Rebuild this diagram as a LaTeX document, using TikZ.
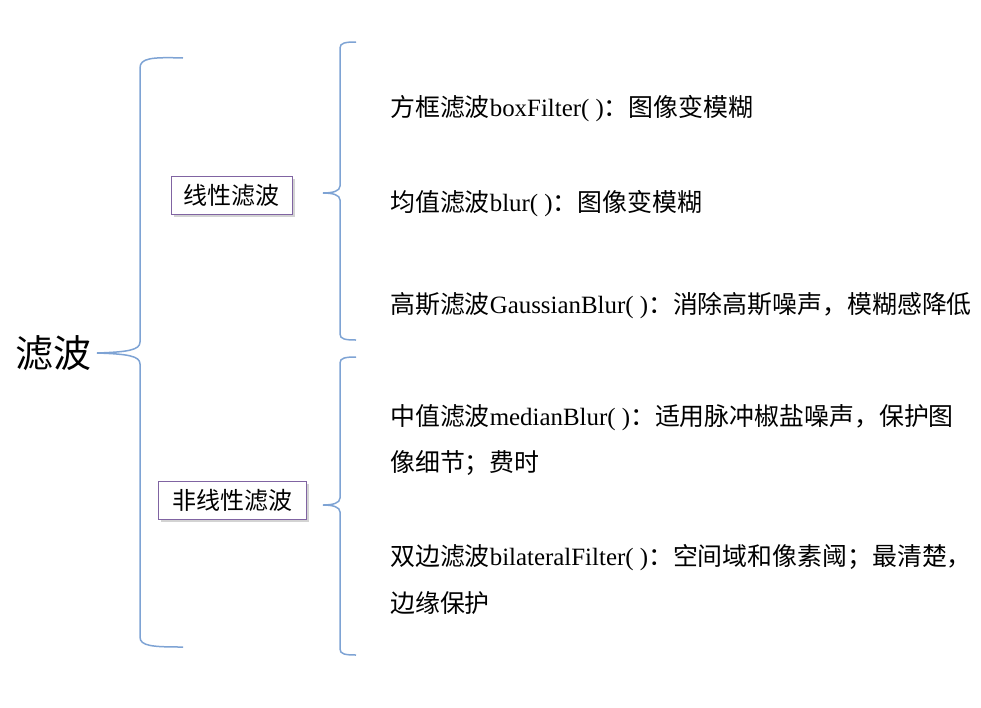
\documentclass[tikz,border=0pt]{standalone}
\usepackage{fontspec}
\setmainfont{Liberation Serif}
\newfontfamily\cjk{Noto Sans CJK SC}
\newcommand\zh[1]{{\cjk #1}}
\usetikzlibrary{shadows}
\definecolor{bracecol}{RGB}{126,163,212}
\definecolor{boxcol}{RGB}{128,100,162}
\tikzset{
  bracestyle/.style={draw=bracecol, line width=1.5pt},
  catbox/.style={draw=boxcol, line width=1pt, fill=white, minimum height=38pt, inner sep=0pt,
    font=\fontsize{24}{28}\selectfont\cjk,
    drop shadow={shadow xshift=2.5pt, shadow yshift=-2.5pt, opacity=0.35}},
  itemtext/.style={anchor=west, inner sep=0pt, font=\fontsize{24.9}{28}\selectfont},
}
\begin{document}
\begin{tikzpicture}[x=1pt,y=-1pt]
\useasboundingbox (0,0) rectangle (981,707);
% root
\node[inner sep=0pt, font=\fontsize{38}{42}\selectfont\cjk] (root) at (53,353) {滤波};
% big brace
\coordinate (bigtip) at (97,353);
\draw[bracestyle] (183,58) .. controls (152,57) and (140,58) .. (140,68) -- (140,342)
  .. controls (140,350) and (128,352) .. (bigtip)
  .. controls (128,354) and (140,356) .. (140,364) -- (140,637)
  .. controls (140,646) and (152,647) .. (183,647);
% category boxes
\node[catbox, minimum width=121pt] (lin) at (231.5,195) {线性滤波};
\node[catbox, minimum width=148pt] (nonlin) at (232,500.5) {非线性滤波};
% upper small brace
\coordinate (uptip) at (323,193);
\draw[bracestyle] (356,42) .. controls (345,42) and (340,43) .. (340,48) -- (340,186)
  .. controls (340,191) and (333,193) .. (uptip)
  .. controls (333,193) and (340,195) .. (340,200) -- (340,334)
  .. controls (340,339) and (345,340) .. (356,340);
% lower small brace
\coordinate (lowtip) at (323,505);
\draw[bracestyle] (356,357) .. controls (345,357) and (340,358) .. (340,363) -- (340,498)
  .. controls (340,503) and (333,505) .. (lowtip)
  .. controls (333,505) and (340,507) .. (340,512) -- (340,649)
  .. controls (340,654) and (345,655) .. (356,655);
% items
\node[itemtext] (t1) at (390,109) {\zh{方框滤波}boxFilter( )\zh{：图像变模糊}};
\node[itemtext] (t2) at (390,204) {\zh{均值滤波}blur( )\zh{：图像变模糊}};
\node[itemtext] (t3) at (390,306) {\zh{高斯滤波}GaussianBlur( )\zh{：消除高斯噪声，模糊感降低}};
\node[itemtext] (t4) at (390,418) {\zh{中值滤波}medianBlur( )\zh{：适用脉冲椒盐噪声，保护图}};
\node[itemtext] (t4b) at (390,463) {\zh{像细节；费时}};
\node[itemtext] (t5) at (390,558) {\zh{双边滤波}bilateralFilter( )\zh{：空间域和像素阈；最清楚，}};
\node[itemtext] (t5b) at (390,603) {\zh{边缘保护}};
\end{tikzpicture}
\end{document}
